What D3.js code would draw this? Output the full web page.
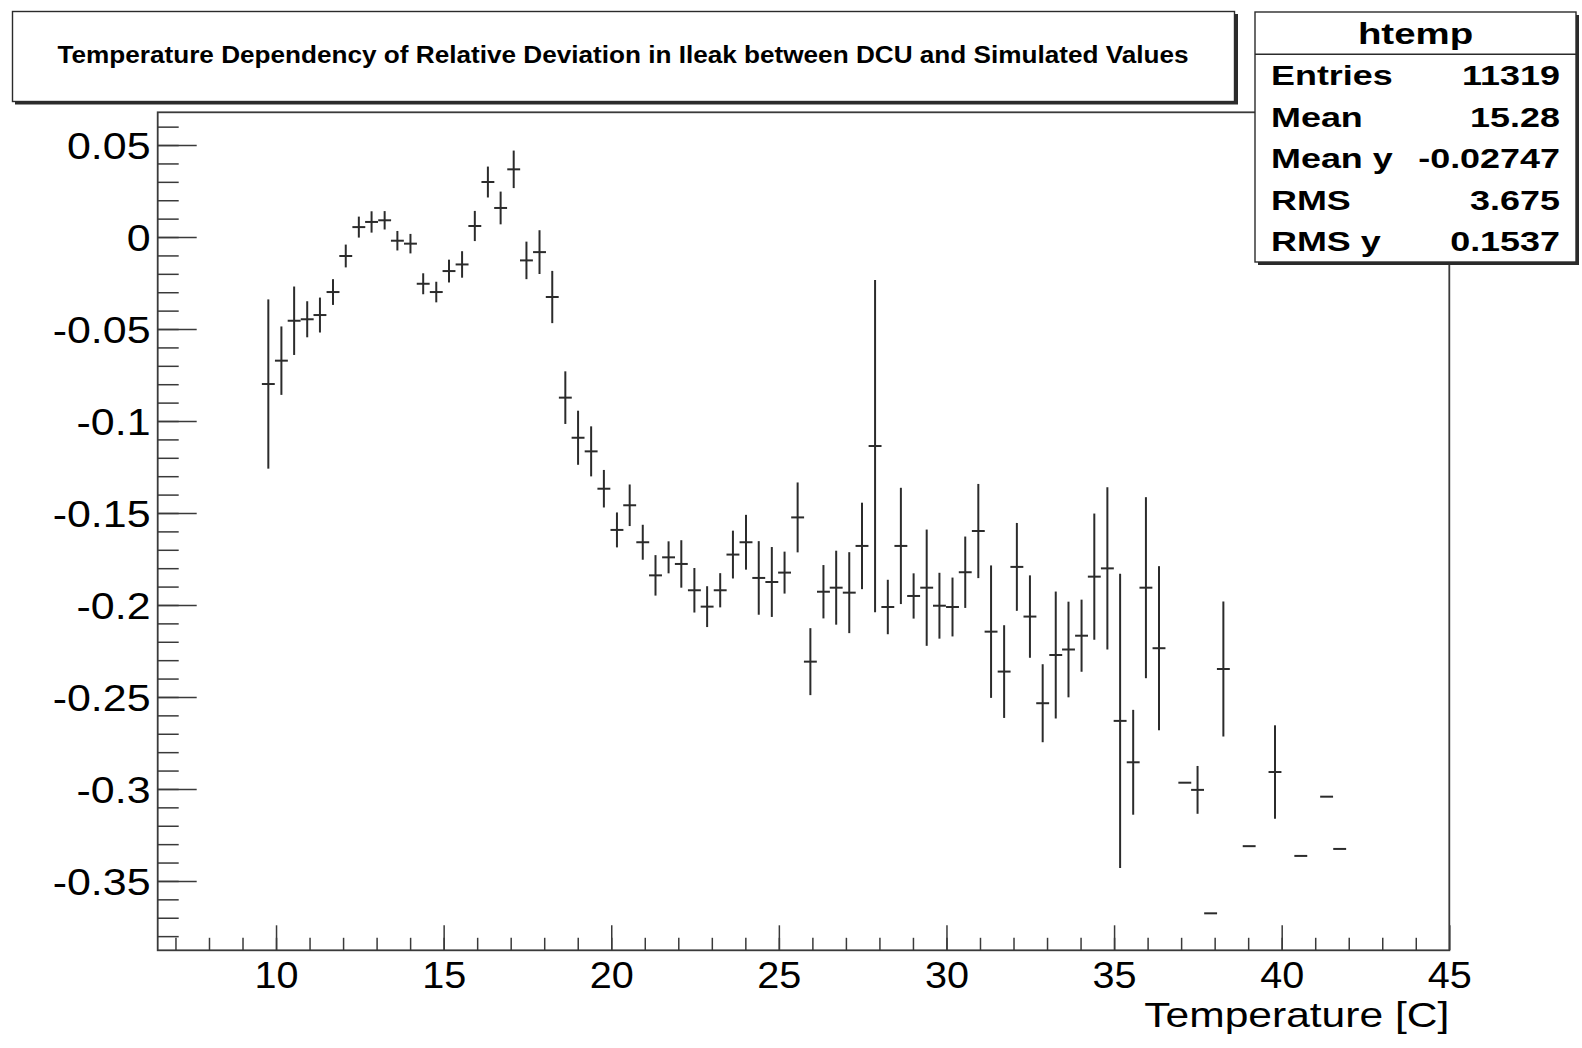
<!DOCTYPE html>
<html>
<head>
<meta charset="utf-8">
<script src="https://cdn.jsdelivr.net/npm/d3@7"></script>
<style>
  body { margin: 0; background: #fff; }
  text { font-family: "Liberation Sans", Arial, Helvetica, sans-serif; fill: #000; }
</style>
</head>
<body>
<div id="chart"></div>
<script>
// profile bins (empty bins left out)
const temperature = [
  9.77, 10.16, 10.54, 10.93, 11.31, 11.70, 12.08, 12.47, 12.85, 13.24,
  13.62, 14.01, 14.39, 14.78, 15.16, 15.55, 15.93, 16.32, 16.70, 17.09,
  17.47, 17.86, 18.24, 18.63, 19.01, 19.40, 19.78, 20.17, 20.55, 20.94,
  21.32, 21.71, 22.09, 22.48, 22.86, 23.25, 23.63, 24.02, 24.40, 24.79,
  25.17, 25.56, 25.94, 26.33, 26.71, 27.10, 27.48, 27.87, 28.25, 28.64,
  29.02, 29.41, 29.79, 30.18, 30.56, 30.95, 31.33, 31.72, 32.10, 32.49,
  32.87, 33.26, 33.64, 34.03, 34.41, 34.80, 35.18, 35.57, 35.95, 36.34,
  37.11, 37.49, 37.88, 38.26, 39.03, 39.80, 40.57, 41.34, 41.73
];
const relDeviation = [
  -0.0799, -0.0672, -0.0455, -0.0447, -0.0424, -0.0299, -0.0103, 0.0054, 0.0082, 0.0091,
  -0.0020, -0.0036, -0.0254, -0.0299, -0.0185, -0.0149, 0.0060, 0.0299, 0.0158, 0.0368,
  -0.0127, -0.0082, -0.0326, -0.0873, -0.1091, -0.1165, -0.1368, -0.1592, -0.1458, -0.1659,
  -0.1839, -0.1741, -0.1777, -0.1920, -0.2009, -0.1920, -0.1726, -0.1659, -0.1853, -0.1875,
  -0.1824, -0.1524, -0.2308, -0.1928, -0.1906, -0.1933, -0.1679, -0.1136, -0.2011, -0.1679,
  -0.1951, -0.1906, -0.2004, -0.2011, -0.1822, -0.1598, -0.2145, -0.2362, -0.1793, -0.2063,
  -0.2534, -0.2272, -0.2242, -0.2167, -0.1846, -0.1801, -0.2630, -0.2855, -0.1906, -0.2235,
  -0.2966, -0.3005, -0.3676, -0.2348, -0.3311, -0.2908, -0.3364, -0.3042, -0.3326
];
const devError = [
  0.0460, 0.0186, 0.0186, 0.0098, 0.0095, 0.0070, 0.0062, 0.0057, 0.0058, 0.0050,
  0.0053, 0.0053, 0.0057, 0.0056, 0.0062, 0.0072, 0.0082, 0.0084, 0.0089, 0.0102,
  0.0102, 0.0119, 0.0142, 0.0143, 0.0147, 0.0136, 0.0102, 0.0095, 0.0113, 0.0095,
  0.0110, 0.0087, 0.0129, 0.0121, 0.0111, 0.0093, 0.0130, 0.0149, 0.0200, 0.0190,
  0.0114, 0.0190, 0.0182, 0.0145, 0.0201, 0.0220, 0.0235, 0.0903, 0.0148, 0.0316,
  0.0123, 0.0316, 0.0179, 0.0160, 0.0194, 0.0256, 0.0360, 0.0252, 0.0239, 0.0224,
  0.0212, 0.0345, 0.0260, 0.0196, 0.0343, 0.0441, 0.0800, 0.0285, 0.0492, 0.0446,
  0, 0.0130, 0, 0.0367, 0, 0.0254, 0, 0, 0
];
const binHalfWidth = 0.1925;

const xTickValues = [10, 15, 20, 25, 30, 35, 40, 45];
const xTickLabels = ["10", "15", "20", "25", "30", "35", "40", "45"];
const yTickValues = [0.05, 0, -0.05, -0.1, -0.15, -0.2, -0.25, -0.3, -0.35];
const yTickLabels = ["0.05", "0", "-0.05", "-0.1", "-0.15", "-0.2", "-0.25", "-0.3", "-0.35"];

const titleText = "Temperature Dependency of Relative Deviation in Ileak between DCU and Simulated Values";
const xTitle = "Temperature [C]";
const statsName = "htemp";
const statsLabels = ["Entries", "Mean", "Mean y", "RMS", "RMS y"];
const statsValues = ["11319", "15.28", "-0.02747", "3.675", "0.1537"];

const W = 1582, H = 1048;
const frame = { left: 157.7, right: 1449.3, top: 112.3, bottom: 950.3 };
const ink = "#2b2b2b";

const svg = d3.select("#chart").append("svg")
  .attr("width", W)
  .attr("height", H);

const x = d3.scaleLinear().domain([6.47, 45]).range([frame.left, frame.right]);
const y = d3.scaleLinear().domain([-0.3877, 0.0678]).range([frame.bottom, frame.top]);

// ROOT fonts come out wider than Liberation, so widen text to a width, keeping the anchor point
function fitText(sel, width, anchor) {
  sel.each(function () {
    const t = d3.select(this);
    const w = typeof width === "function" ? width(this) : width;
    const x0 = +t.attr("x") || 0;
    const off = anchor === "end" ? w : anchor === "middle" ? w / 2 : 0;
    t.attr("text-anchor", "start")
      .attr("x", x0 - off)
      .attr("textLength", w)
      .attr("lengthAdjust", "spacingAndGlyphs");
  });
}
const widen = k => node => node.getComputedTextLength() * k;

// minor ticks
svg.append("g")
  .attr("transform", `translate(${frame.left},0)`)
  .call(d3.axisLeft(y).tickValues(d3.range(-38, 7).map(v => v / 100)).tickSize(-21).tickFormat(""))
  .attr("color", "#3a3a3a")
  .call(g => g.select(".domain").remove())
  .selectAll("line").attr("stroke-width", 1.5);

svg.append("g")
  .attr("transform", `translate(0,${frame.bottom})`)
  .call(d3.axisBottom(x).tickValues(d3.range(7, 45)).tickSize(-12.5).tickFormat(""))
  .attr("color", "#3a3a3a")
  .call(g => g.select(".domain").remove())
  .selectAll("line").attr("stroke-width", 1.5);

// major ticks + labels
const yAxis = svg.append("g")
  .attr("transform", `translate(${frame.left},0)`)
  .call(d3.axisLeft(y).tickValues(yTickValues).tickSize(-39).tickPadding(7.2)
    .tickFormat((d, i) => yTickLabels[i]))
  .attr("color", "#3a3a3a")
  .attr("font-size", 37)
  .attr("font-family", null);
yAxis.select(".domain").remove();
yAxis.selectAll("line").attr("stroke-width", 1.5);
yAxis.selectAll("text").attr("dy", "0.36em").style("fill", "#000")
  .call(fitText, widen(1.16), "end");

const xAxis = svg.append("g")
  .attr("transform", `translate(0,${frame.bottom})`)
  .call(d3.axisBottom(x).tickValues(xTickValues).tickSize(-25).tickPadding(12.4)
    .tickFormat((d, i) => xTickLabels[i]))
  .attr("color", "#3a3a3a")
  .attr("font-size", 36)
  .attr("font-family", null);
xAxis.select(".domain").remove();
xAxis.selectAll("line").attr("stroke-width", 1.5);
xAxis.selectAll("text").style("fill", "#000")
  .call(fitText, widen(1.1), "middle");

svg.append("text")
  .attr("x", frame.right)
  .attr("y", 1026.7)
  .attr("font-size", 35)
  .text(xTitle)
  .call(fitText, 305, "end");

// error bars
const pts = temperature.map((t, i) => ({ t, v: relDeviation[i], e: devError[i] }));
const marks = svg.append("g").attr("stroke", ink).attr("stroke-width", 2);

marks.selectAll(".hbar")
  .data(pts)
  .enter().append("line")
    .attr("class", "hbar")
    .attr("x1", d => x(d.t - binHalfWidth))
    .attr("x2", d => x(d.t + binHalfWidth))
    .attr("y1", d => y(d.v))
    .attr("y2", d => y(d.v));

marks.selectAll(".vbar")
  .data(pts.filter(d => d.e > 0))
  .enter().append("line")
    .attr("class", "vbar")
    .attr("x1", d => x(d.t))
    .attr("x2", d => x(d.t))
    .attr("y1", d => y(d.v + d.e))
    .attr("y2", d => y(d.v - d.e));

// frame
svg.append("rect")
  .attr("x", frame.left)
  .attr("y", frame.top)
  .attr("width", frame.right - frame.left)
  .attr("height", frame.bottom - frame.top)
  .attr("fill", "none")
  .attr("stroke", "#3a3a3a")
  .attr("stroke-width", 1.8);

// title pave
svg.append("rect")
  .attr("x", 12.5).attr("y", 11.5)
  .attr("width", 1222).attr("height", 90)
  .attr("fill", "#fff")
  .attr("stroke", ink).attr("stroke-width", 1.4);
svg.append("path")
  .attr("d", "M15,103 H1236.5 V14")
  .attr("fill", "none")
  .attr("stroke", ink).attr("stroke-width", 3);
svg.append("text")
  .attr("x", 623)
  .attr("y", 63.3)
  .attr("font-size", 23)
  .attr("font-weight", "bold")
  .text(titleText)
  .call(fitText, 1131, "middle");

// stats box
const sx0 = 1255, sx1 = 1576, sy0 = 12, sy1 = 262;
svg.append("rect")
  .attr("x", sx0).attr("y", sy0)
  .attr("width", sx1 - sx0).attr("height", sy1 - sy0)
  .attr("fill", "#fff")
  .attr("stroke", ink).attr("stroke-width", 1.4);
svg.append("path")
  .attr("d", `M${sx0 + 3},${sy1 + 1.5} H${sx1 + 1.5} V${sy0 + 3}`)
  .attr("fill", "none")
  .attr("stroke", ink).attr("stroke-width", 3);
svg.append("line")
  .attr("x1", sx0).attr("x2", sx1)
  .attr("y1", 54.3).attr("y2", 54.3)
  .attr("stroke", ink).attr("stroke-width", 1.4);

svg.append("text")
  .attr("x", 1415.5).attr("y", 43.5)
  .attr("font-size", 30).attr("font-weight", "bold")
  .text(statsName)
  .call(fitText, widen(1.28), "middle");

const rowBase = [84.5, 126.5, 168, 209.5, 250.5];

statsLabels.forEach((s, i) => {
  svg.append("text")
    .attr("x", 1271).attr("y", rowBase[i])
    .attr("font-size", 28.5).attr("font-weight", "bold")
    .text(s)
    .call(fitText, widen(1.26), "start");
  svg.append("text")
    .attr("x", 1560).attr("y", rowBase[i])
    .attr("font-size", 28.5).attr("font-weight", "bold")
    .text(statsValues[i])
    .call(fitText, widen(1.26), "end");
});
</script>
</body>
</html>
